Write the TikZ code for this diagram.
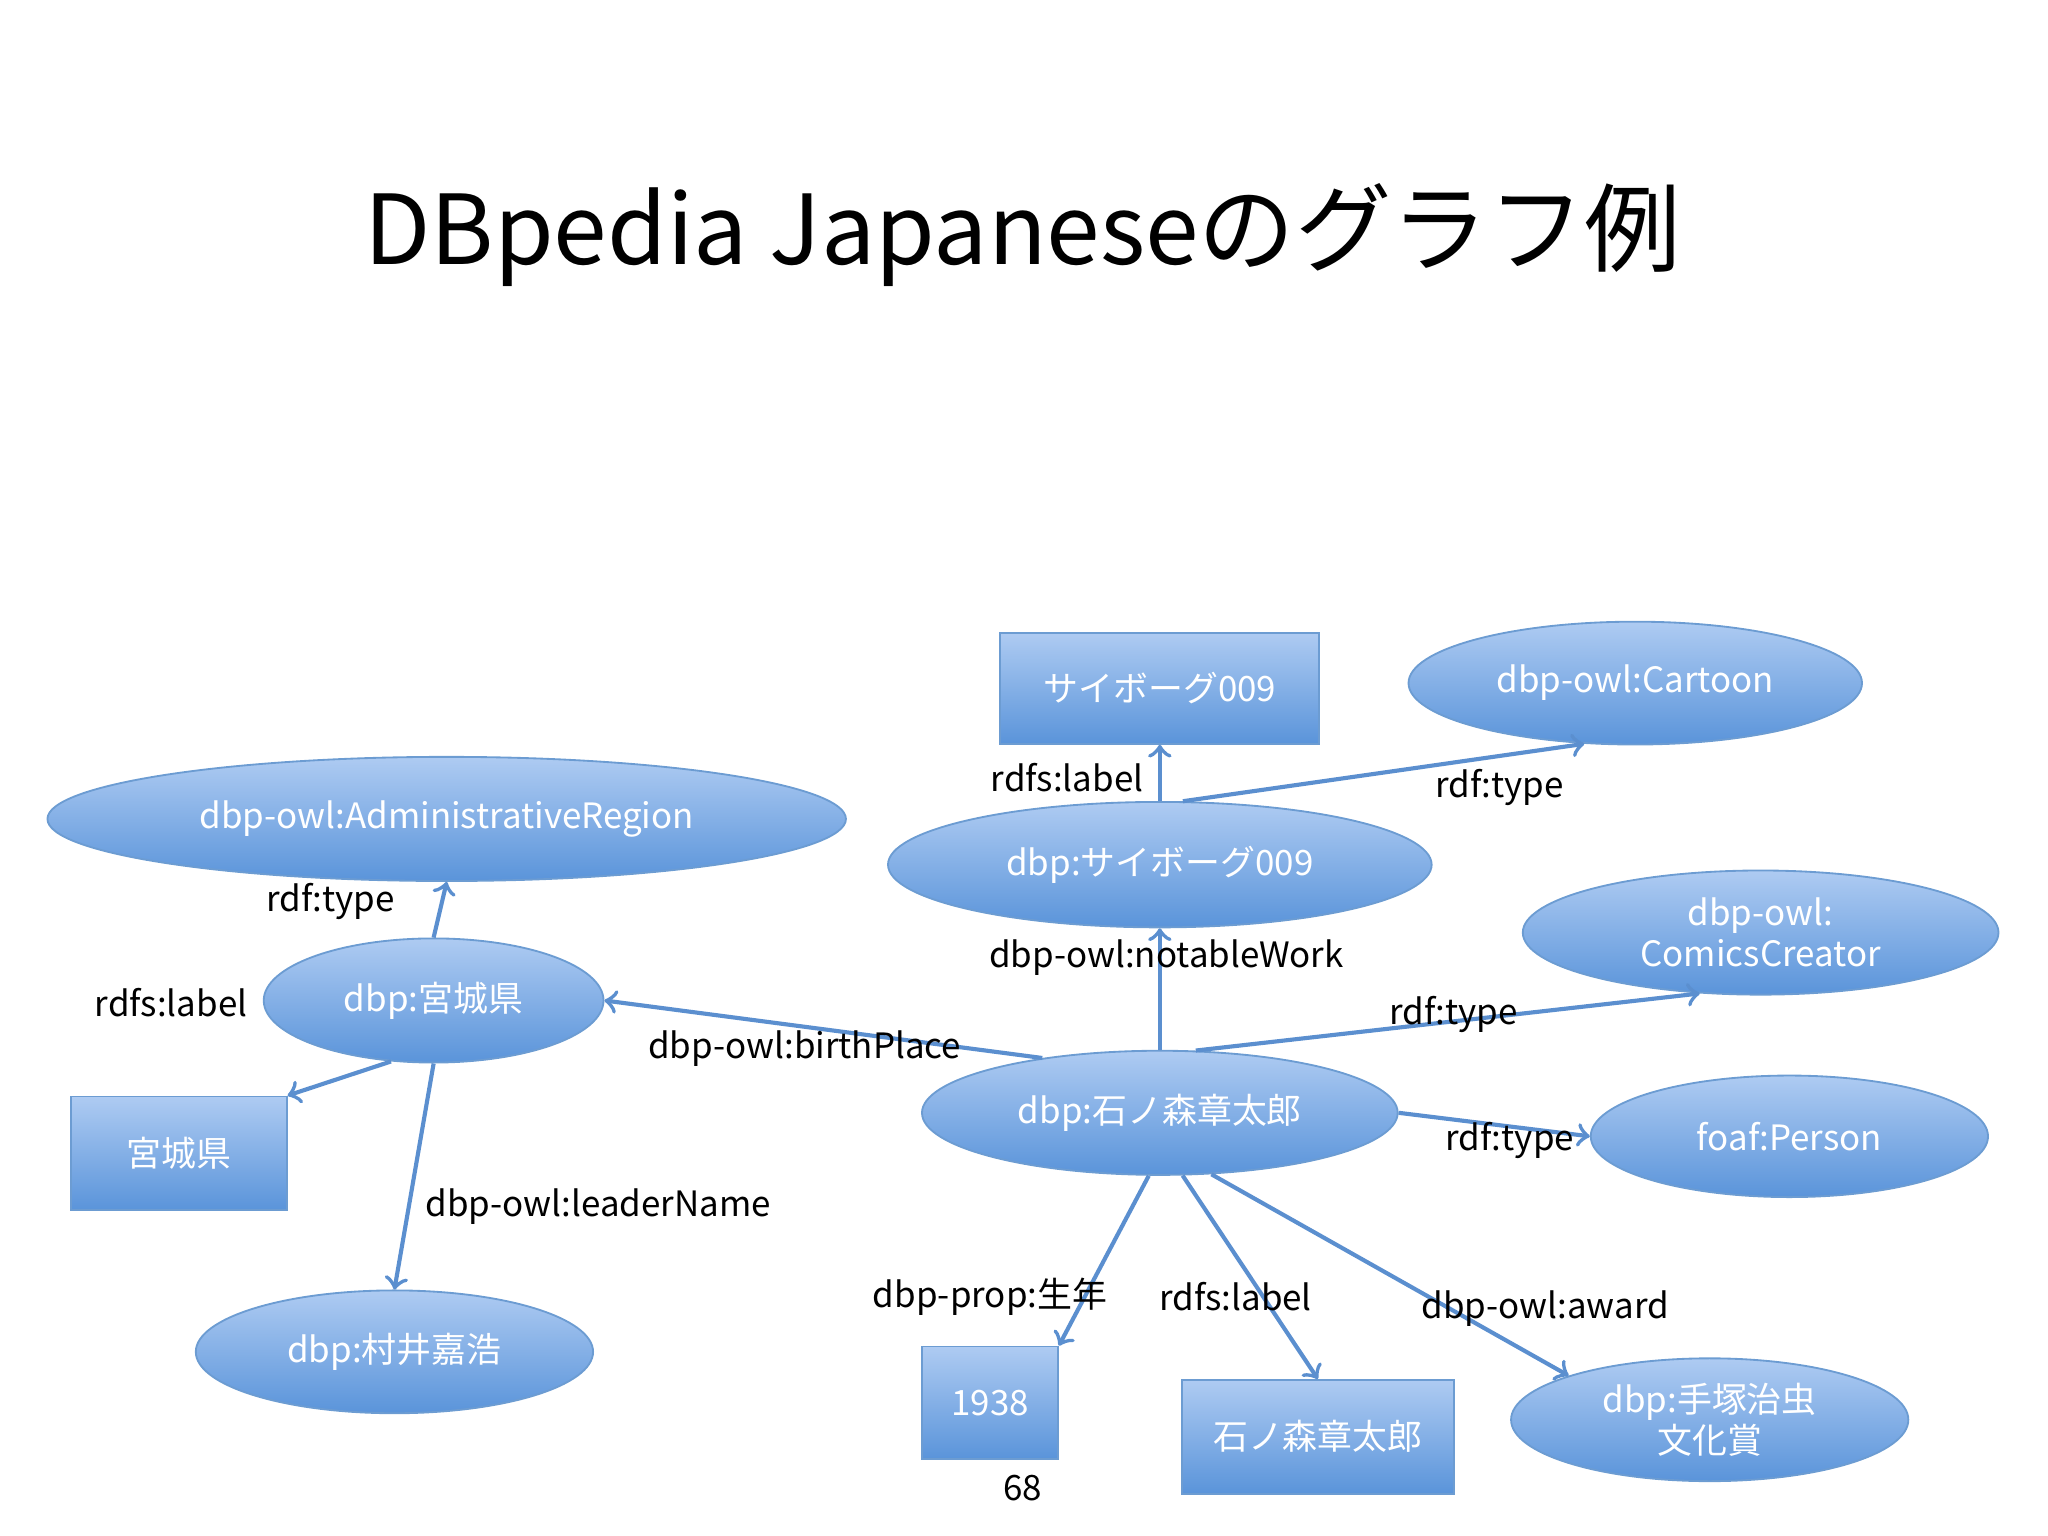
\documentclass[tikz,border=0pt]{standalone}
\usepackage{fontspec}
\setmainfont{Noto Sans CJK JP}
\usepackage{tikz}
\usetikzlibrary{positioning,shapes.geometric,arrows}

\definecolor{nodetop}{HTML}{AECBF2}
\definecolor{nodebot}{HTML}{5A94DA}
\definecolor{nodeline}{HTML}{6C9CD2}
\definecolor{edgecol}{HTML}{5B8FCF}

\begin{document}
\begin{tikzpicture}[
   			x=0.01cm, y=-0.01cm,
   			every node/.style = {font=\fontsize{7.6}{9}\selectfont},
   			res/.style = {shape=ellipse, draw=nodeline, inner sep=0pt,
   				top color=nodetop, bottom color=nodebot, text=white, align=center},
   			lit/.style = {shape=rectangle, draw=nodeline, inner sep=0pt,
   				top color=nodetop, bottom color=nodebot, text=white, align=center},
   			rel/.style = {draw=edgecol, line width=0.9pt, -to},
   			lbl/.style = {text=black}]
   			\useasboundingbox (0,0) rectangle (1568,1176);
   			% title
   			\node (title) at (783,180) {\fontsize{21}{25}\selectfont DBpedia Japaneseのグラフ例};
   			% nodes
   			\node[lit, minimum width=2.44cm, minimum height=0.85cm] (cyborg) at (888,527) {サイボーグ009};
   			\node[res, minimum width=3.47cm, minimum height=0.94cm] (cartoon) at (1252,523) {dbp-owl:Cartoon};
   			\node[res, minimum width=6.11cm, minimum height=0.95cm] (admin) at (342,627) {dbp-owl:AdministrativeRegion};
   			\node[res, minimum width=4.16cm, minimum height=0.96cm] (dcyborg) at (888,662) {dbp:サイボーグ009};
   			\node[res, minimum width=3.64cm, minimum height=0.95cm] (creator) at (1348,714) {dbp-owl:\\ComicsCreator};
   			\node[res, minimum width=2.60cm, minimum height=0.95cm] (dmiyagi) at (332,766) {dbp:宮城県};
   			\node[lit, minimum width=1.65cm, minimum height=0.87cm] (miyagi) at (137,883) {宮城県};
   			\node[res, minimum width=3.64cm, minimum height=0.95cm] (dishi) at (888,852) {dbp:石ノ森章太郎};
   			\node[res, minimum width=3.04cm, minimum height=0.93cm] (person) at (1370,870) {foaf:Person};
   			\node[res, minimum width=3.04cm, minimum height=0.94cm] (murai) at (302,1035) {dbp:村井嘉浩};
   			\node[lit, minimum width=1.04cm, minimum height=0.86cm] (year) at (758,1074) {1938};
   			\node[lit, minimum width=2.08cm, minimum height=0.87cm] (ishi) at (1009,1100) {石ノ森章太郎};
   			\node[res, minimum width=3.04cm, minimum height=0.94cm] (tezuka) at (1309,1087) {dbp:手塚治虫\\文化賞};
   			\node (page) at (783,1139) {68};
   			% connectors
   			\draw[rel] (dishi.north) -- (dcyborg.south);
   			\draw[rel] (dcyborg.north) -- (cyborg.south);
   			\draw[rel] (dcyborg.70) -- (cartoon.230);
   			\draw[rel] (dishi.155) -- (dmiyagi.east);
   			\draw[rel] (dmiyagi.north) -- (admin.south);
   			\draw[rel] (dmiyagi.235) -- (miyagi.north east);
   			\draw[rel] (dmiyagi.south) -- (murai.north);
   			\draw[rel] (dishi.60) -- (creator.225);
   			\draw[rel] (dishi.east) -- (person.west);
   			\draw[rel] (dishi.260) -- (year.north east);
   			\draw[rel] (dishi.290) -- (ishi.north);
   			\draw[rel] (dishi.310) -- (tezuka.north west);
   			% labels
   			\node[lbl] (l1) at (893,733) {dbp-owl:notableWork};
   			\node[lbl] (l2) at (817,595) {rdfs:label};
   			\node[lbl] (l3) at (1148,603) {rdf:type};
   			\node[lbl] (l4) at (616,803) {dbp-owl:birthPlace};
   			\node[lbl] (l5) at (253,690) {rdf:type};
   			\node[lbl] (l6) at (131,768) {rdfs:label};
   			\node[lbl] (l7) at (458,924) {dbp-owl:leaderName};
   			\node[lbl] (l8) at (1113,777) {rdf:type};
   			\node[lbl] (l9) at (1156,873) {rdf:type};
   			\node[lbl] (l10) at (758,993) {dbp-prop:生年};
   			\node[lbl] (l11) at (946,993) {rdfs:label};
   			\node[lbl] (l12) at (1183,1002) {dbp-owl:award};
\end{tikzpicture}
\end{document}
